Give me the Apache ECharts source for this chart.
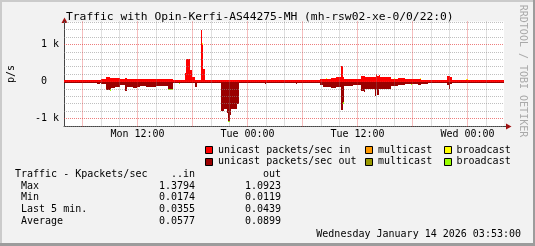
<!DOCTYPE html>
<html><head><meta charset="utf-8">
<script src="https://cdn.jsdelivr.net/npm/echarts@6/dist/echarts.min.js"></script>
<style>html,body{margin:0;padding:0;background:#F2F2F2;}#c{width:535px;height:246px;}</style>
</head><body><div id="c"></div>
<script>
// ---- data (hours since Monday 00:00; each value holds until the next time) ----
const hours = [4.00, 7.55, 7.87, 8.06, 8.60, 8.96, 9.07, 9.51, 10.05, 10.60, 10.85, 11.47, 11.91, 12.24, 12.97, 13.33, 13.47, 14.06, 14.42, 14.53, 15.32, 15.87, 16.49, 16.60, 17.15, 17.31, 17.69, 17.91, 18.24, 18.53, 18.89, 19.00, 19.11, 19.33, 21.07, 21.40, 21.80, 21.91, 22.09, 22.20, 22.82, 23.04, 25.87, 26.01, 29.29, 29.40, 31.87, 32.23, 32.60, 32.71, 33.15, 33.69, 33.80, 34.24, 34.38, 34.49, 35.51, 36.42, 36.67, 36.78, 37.87, 38.06, 38.17, 38.31, 38.42, 39.69, 39.95, 40.05, 40.41, 41.15, 41.80, 41.91, 42.60, 42.86, 42.97, 43.69, 45.80, 45.98, 46.09, 46.31, 47.88, 48.02, 51.98];
const unicastIn = [45, 50, 45, 60, 117, 100, 100, 90, 55, 90, 70, 70, 70, 60, 70, 70, 70, 55, 55, 55, 55, 35, 40, 45, 220, 610, 300, 110, 45, 45, 1379, 1000, 343, 50, 50, 50, 50, 50, 50, 50, 50, 45, 45, 45, 50, 45, 55, 70, 70, 70, 100, 117, 117, 432, 120, 65, 55, 160, 160, 117, 117, 190, 150, 180, 117, 70, 70, 70, 85, 70, 70, 70, 70, 70, 45, 45, 160, 160, 117, 40, 40, 36, 36];
const unicastOut = [40, 80, 40, 70, 240, 190, 180, 150, 90, 260, 150, 180, 150, 125, 135, 160, 135, 110, 110, 110, 215, 45, 40, 40, 40, 40, 40, 40, 135, 40, 40, 40, 40, 40, 800, 750, 850, 1060, 900, 740, 620, 40, 70, 40, 60, 40, 90, 135, 135, 135, 180, 135, 135, 780, 560, 110, 90, 250, 290, 200, 380, 200, 360, 200, 200, 110, 110, 110, 90, 80, 80, 80, 90, 90, 65, 40, 90, 200, 65, 44, 44, 44, 44];
const broadcastIn = [0, 0, 0, 0, 0, 0, 0, 0, 0, 0, 0, 0, 0, 0, 0, 0, 0, 0, 25, 0, 0, 0, 0, 0, 0, 0, 0, 0, 0, 0, 0, 45, 0, 0, 0, 0, 0, 0, 0, 0, 0, 0, 0, 0, 0, 0, 0, 0, 20, 0, 0, 0, 0, 0, 0, 0, 0, 0, 0, 0, 0, 0, 0, 0, 0, 0, 30, 0, 0, 0, 0, 0, 0, 25, 0, 0, 0, 0, 0, 0, 15, 0, 0];
const broadcastOut = [0, 0, 0, 0, 0, 70, 0, 0, 0, 0, 0, 0, 0, 0, 0, 0, 0, 0, 0, 0, 25, 0, 20, 0, 0, 0, 0, 0, 0, 0, 0, 0, 0, 0, 0, 0, 0, 32, 0, 0, 0, 0, 0, 0, 0, 0, 0, 0, 0, 0, 0, 25, 0, 0, 40, 0, 0, 0, 0, 0, 0, 0, 0, 0, 0, 0, 0, 0, 0, 0, 20, 0, 0, 0, 0, 0, 0, 0, 0, 0, 0, 0, 0];
const multicastHours = [4.00, 51.98];
const multicastIn = [0, 0];
const multicastOut = [0, 0];

const xTickHours = [12, 24, 36, 48];
const xTickLabels = ['Mon 12:00', 'Tue 00:00', 'Tue 12:00', 'Wed 00:00'];
const yTickValues = [-1000, 0, 1000];
const yTickLabels = ['-1 k', '0  ', '1 k'];
const yMinorGrid = [-1200, -800, -600, -400, -200, 200, 400, 600, 800, 1200, 1400, 1600];
const yMajorGrid = [-1000, 0, 1000];
const xMinorGrid = [8, 10, 14, 16, 20, 22, 26, 28, 32, 34, 38, 40, 44, 46, 50];
const xMajorGrid = [6, 12, 18, 24, 30, 36, 42, 48];

const legendNames = ['unicast packets/sec in', 'multicast', 'broadcast', 'unicast packets/sec out', 'multicast', 'broadcast'];
const statHeader = ['Traffic - Kpackets/sec', '..in', 'out'];
const statLabels = ['Max', 'Min', 'Last 5 min.', 'Average'];
const statIn = ['1.3794', '0.0174', '0.0355', '0.0577'];
const statOut = ['1.0923', '0.0119', '0.0439', '0.0899'];
const titleText = 'Traffic with Opin-Kerfi-AS44275-MH (mh-rsw02-xe-0/0/22:0)';
const dateText = 'Wednesday January 14 2026 03:53:00';
const yUnitText = 'p/s';
const watermarkText = 'RRDTOOL / TOBI OETIKER';

// ---- styles ----
const FONT = 'DejaVu Sans Mono';
const C = {
  uniIn: '#FF0000', uniOut: '#9A0000',
  mcIn: '#FF9900', mcOut: '#999900',
  bcIn: '#FFFF00', bcOut: '#99FF00'
};
const legendColors = [C.uniIn, C.mcIn, C.bcIn, C.uniOut, C.mcOut, C.bcOut];

// step segments drawn as rectangles through the axis scales (stacked: base -> base + value)
function renderSeg(params, api) {
  const a = api.coord([api.value(0), api.value(3)]);
  const b = api.coord([api.value(1), api.value(2)]);
  const x0 = Math.round(Math.min(a[0], b[0])), x1 = Math.round(Math.max(a[0], b[0]));
  const y0 = Math.round(Math.min(a[1], b[1])), y1 = Math.round(Math.max(a[1], b[1]));
  if (x1 <= x0 || y1 <= y0) return null;
  return { type: 'rect', shape: { x: x0, y: y0, width: x1 - x0, height: y1 - y0 }, style: { fill: api.visual('color') } };
}
function segSeries(name, color, xs, base, vals, sign) {
  const data = [];
  for (let i = 0; i < xs.length - 1; i++) {
    const b = base ? base[i] : 0;
    data.push([xs[i], xs[i + 1], sign * b, sign * (b + vals[i])]);
  }
  return {
    name, type: 'custom', renderItem: renderSeg, data,
    encode: { x: [0, 1], y: [2, 3] }, itemStyle: { color },
    silent: true, animation: false, z: 2, clip: true
  };
}

const minorStyle = { color: 'rgba(140,140,140,0.55)', width: 1, type: [1, 1] };
const majorStyle = { color: 'rgba(225,40,40,0.6)', width: 1, type: [1, 1] };
const gridLines = []
  .concat(yMinorGrid.map(v => ({ yAxis: v, lineStyle: minorStyle })))
  .concat(xMinorGrid.map(v => ({ xAxis: v, lineStyle: minorStyle })))
  .concat(yMajorGrid.map(v => ({ yAxis: v, lineStyle: majorStyle })))
  .concat(xMajorGrid.map(v => ({ xAxis: v, lineStyle: majorStyle })));

function txt(x, y, text, o) {
  return Object.assign({ type: 'text', x, y, silent: true,
    style: Object.assign({ text, fill: '#000', fontSize: 10, fontFamily: FONT, align: 'left', verticalAlign: 'middle' }, (o && o.style) || {}) },
    o && o.rotation !== undefined ? { rotation: o.rotation } : {});
}

const graphics = [];
// frame
graphics.push({ type: 'rect', silent: true, shape: { x: 0, y: 0, width: 535, height: 2 }, style: { fill: '#CBCBCB' } });
graphics.push({ type: 'rect', silent: true, shape: { x: 0, y: 0, width: 2, height: 246 }, style: { fill: '#CBCBCB' } });
graphics.push({ type: 'rect', silent: true, shape: { x: 0, y: 243, width: 535, height: 3 }, style: { fill: '#9C9C9C' } });
graphics.push({ type: 'rect', silent: true, shape: { x: 533, y: 0, width: 2, height: 246 }, style: { fill: '#9C9C9C' } });
// arrows
graphics.push({ type: 'polygon', silent: true, shape: { points: [[64.5, 17.5], [61.5, 23], [67.5, 23]] }, style: { fill: '#A01010' } });
graphics.push({ type: 'line', silent: true, shape: { x1: 64.5, y1: 23, x2: 64.5, y2: 21.5 }, style: { stroke: '#444', lineWidth: 1 } });
graphics.push({ type: 'polygon', silent: true, shape: { points: [[511.5, 126.5], [506, 123.5], [506, 129.5]] }, style: { fill: '#A01010' } });
graphics.push({ type: 'line', silent: true, shape: { x1: 504, y1: 126.5, x2: 506, y2: 126.5 }, style: { stroke: '#444', lineWidth: 1 } });
// title, unit, watermark
graphics.push(txt(66, 17.3, titleText, { style: { fontSize: 11.3 } }));
graphics.push(txt(11.5, 74, yUnitText, { rotation: Math.PI / 2, style: { align: 'center' } }));
graphics.push(txt(522.5, 71, watermarkText, { rotation: -Math.PI / 2, style: { align: 'center', fill: '#A9A9A9' } }));
// legend
const legX = [205.5, 365.5, 444.5];
const legTX = [218, 378, 456.5];
const legY = [146.5, 158.5];
const legTY = [150, 161.8];
legendNames.forEach((n, i) => {
  const r = Math.floor(i / 3), c = i % 3;
  graphics.push({ type: 'rect', silent: true, shape: { x: legX[c], y: legY[r], width: 7, height: 7 }, style: { fill: legendColors[i], stroke: '#000', lineWidth: 1 } });
  graphics.push(txt(legTX[c], legTY[r], n));
});
// stats
graphics.push(txt(15, 174.6, statHeader[0]));
graphics.push(txt(195, 174.6, statHeader[1], { style: { align: 'right' } }));
graphics.push(txt(281, 174.6, statHeader[2], { style: { align: 'right' } }));
const rowY = [186, 197.8, 209.3, 221.6];
statLabels.forEach((l, i) => {
  graphics.push(txt(21, rowY[i], l));
  graphics.push(txt(195, rowY[i], statIn[i], { style: { align: 'right' } }));
  graphics.push(txt(281, rowY[i], statOut[i], { style: { align: 'right' } }));
});
graphics.push(txt(521, 234.3, dateText, { style: { align: 'right' } }));

const option = {
  animation: false,
  backgroundColor: '#F2F2F2',
  grid: { left: 64, right: 31, top: 21.5, bottom: 119.5, show: true, backgroundColor: '#FFFFFF', borderWidth: 0, containLabel: false, outerBoundsMode: 'none' },
  xAxis: {
    type: 'value', min: 3.982, max: 51.982,
    axisLine: { show: true, onZero: false, lineStyle: { color: '#444', width: 1 } },
    axisTick: { show: false }, splitLine: { show: false },
    axisLabel: { customValues: xTickHours, formatter: v => xTickLabels[xTickHours.indexOf(v)], fontFamily: FONT, fontSize: 10, color: '#000', margin: 3 }
  },
  yAxis: {
    type: 'value', min: -1216, max: 1622,
    axisLine: { show: true, lineStyle: { color: '#444', width: 1 } },
    axisTick: { show: false }, splitLine: { show: false },
    axisLabel: { customValues: yTickValues, formatter: v => yTickLabels[yTickValues.indexOf(v)], fontFamily: FONT, fontSize: 10, color: '#000', margin: 5 }
  },
  series: [
    segSeries('unicast packets/sec in', C.uniIn, hours, null, unicastIn, 1),
    segSeries('multicast in', C.mcIn, multicastHours, null, multicastIn, 1),
    segSeries('broadcast in', C.bcIn, hours, unicastIn, broadcastIn, 1),
    segSeries('unicast packets/sec out', C.uniOut, hours, null, unicastOut, -1),
    segSeries('multicast out', C.mcOut, multicastHours, null, multicastOut, -1),
    segSeries('broadcast out', C.bcOut, hours, unicastOut, broadcastOut, -1),
    {
      type: 'line', data: [[hours[0], 0]], symbol: 'none', silent: true, animation: false,
      lineStyle: { opacity: 0 }, z: 5,
      markLine: { silent: true, symbol: 'none', animation: false, z: 5, label: { show: false }, emphasis: { disabled: true }, data: gridLines }
    }
  ],
  graphic: { elements: graphics }
};
const chart = echarts.init(document.getElementById('c'), null, { renderer: 'canvas', width: 535, height: 246 });
chart.setOption(option);
</script></body></html>
